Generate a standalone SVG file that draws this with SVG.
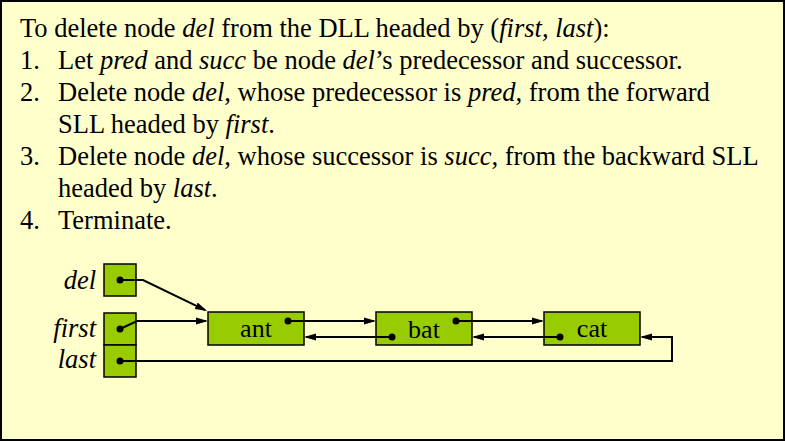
<svg xmlns="http://www.w3.org/2000/svg" width="785" height="441" viewBox="0 0 785 441">
<style>
.t{font-family:"Liberation Serif",serif;font-size:26.5px;fill:#000}
.i{font-family:"Liberation Serif",serif;font-style:italic}
.lbl{font-family:"Liberation Serif",serif;font-size:26.5px;font-style:italic;text-anchor:end;fill:#000}
.nt{font-family:"Liberation Serif",serif;font-size:26px;text-anchor:middle;fill:#000}
.box{fill:#99CC00;stroke:#000;stroke-width:1.5}
.dot{fill:#000}
.c{fill:none;stroke:#000;stroke-width:2}
</style>
<defs>
<marker id="ah" markerUnits="userSpaceOnUse" markerWidth="12" markerHeight="8" viewBox="0 0 12 8" refX="10" refY="4" orient="auto">
<path d="M0,0.5 L12,4 L0,7.5 z" fill="#000"/>
</marker>
</defs>
<rect x="1" y="1" width="783" height="439" fill="#FFFFCC" stroke="#000" stroke-width="2"/>
<g id="text">
<text class="t" x="20" y="37">To delete node <tspan class="i">del</tspan> from the DLL headed by (<tspan class="i">first</tspan>, <tspan class="i">last</tspan>):</text>
<text class="t" x="20" y="69">1.</text>
<text class="t" x="58" y="69">Let <tspan class="i">pred</tspan> and <tspan class="i">succ</tspan> be node <tspan class="i">del</tspan>’s predecessor and successor.</text>
<text class="t" x="20" y="101">2.</text>
<text class="t" x="58" y="101">Delete node <tspan class="i">del</tspan>, whose predecessor is <tspan class="i">pred</tspan>, from the forward</text>
<text class="t" x="58" y="133">SLL headed by <tspan class="i">first</tspan>.</text>
<text class="t" x="20" y="165">3.</text>
<text class="t" x="58" y="165">Delete node <tspan class="i">del</tspan>, whose successor is <tspan class="i">succ</tspan>, from the backward SLL</text>
<text class="t" x="58" y="197">headed by <tspan class="i">last</tspan>.</text>
<text class="t" x="20" y="229">4.</text>
<text class="t" x="58" y="229">Terminate.</text>
</g>
<g id="node-del">
<text class="lbl" x="96" y="289">del</text>
<rect class="box" x="104" y="264" width="32" height="32"/>
<circle class="dot" cx="120" cy="280" r="3.5"/>
</g>
<g id="node-first">
<text class="lbl" x="96" y="337">first</text>
<rect class="box" x="104" y="313" width="32" height="32"/>
<circle class="dot" cx="120" cy="329" r="3.5"/>
</g>
<g id="node-last">
<text class="lbl" x="96" y="368">last</text>
<rect class="box" x="104" y="345" width="32" height="32"/>
<circle class="dot" cx="120" cy="361" r="3.5"/>
</g>
<g id="node-ant">
<rect class="box" x="208" y="312" width="96" height="33"/>
<text class="nt" x="256" y="337">ant</text>
<circle class="dot" cx="288" cy="321" r="3.5"/>
</g>
<g id="node-bat">
<rect class="box" x="376" y="312" width="96" height="33"/>
<text class="nt" x="424" y="337.5">bat</text>
<circle class="dot" cx="392" cy="337" r="3.5"/>
<circle class="dot" cx="456" cy="321" r="3.5"/>
</g>
<g id="node-cat">
<rect class="box" x="544" y="312" width="96" height="33"/>
<text class="nt" x="592" y="337">cat</text>
<circle class="dot" cx="560" cy="337" r="3.5"/>
</g>
<g id="connectors">
<path class="c" d="M120,280 L143,280 L205.2,310.1" marker-end="url(#ah)"/>
<path class="c" d="M120,329 L137,321 L206,321" marker-end="url(#ah)"/>
<path class="c" d="M120,361 L672,361 L672,337 L642,337" marker-end="url(#ah)"/>
<path class="c" d="M288,321 L374,321" marker-end="url(#ah)"/>
<path class="c" d="M456,321 L542,321" marker-end="url(#ah)"/>
<path class="c" d="M392,337 L306,337" marker-end="url(#ah)"/>
<path class="c" d="M560,337 L474,337" marker-end="url(#ah)"/>
</g>
</svg>
